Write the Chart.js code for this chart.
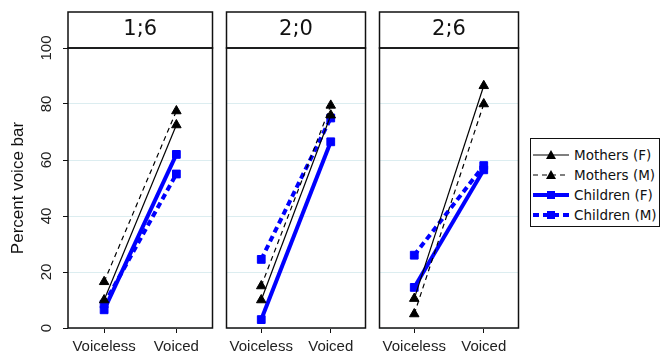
<!DOCTYPE html>
<html>
<head>
<meta charset="utf-8">
<script src="https://cdn.jsdelivr.net/npm/chart.js@4.4.1/dist/chart.umd.min.js"></script>
<style>
    body { margin: 0; background: #fff; width: 662px; height: 351px; overflow: hidden; position: relative;
           font-family: "Liberation Sans", Arial, sans-serif; }
    canvas { position: absolute; top: 11px; }
    #legend { position: absolute; left: 530px; top: 138px; width: 130px; height: 89px;
              border: 1.5px solid #111; box-sizing: border-box; padding-top: 6px; }
    .row { height: 20px; display: flex; align-items: center; color: #111;
           font: 13.5px "DejaVu Sans", Verdana, sans-serif; }
    .row svg { margin-left: 2px; margin-right: 5px; }
</style>
</head>
<body>
<canvas id="p0" width="219" height="340" style="left:0px"></canvas>
<canvas id="p1" width="152" height="340" style="left:220px"></canvas>
<canvas id="p2" width="152" height="340" style="left:373px"></canvas>
<div id="legend"></div>
<script>
(function () {
    "use strict";

    var categories = ["Voiceless", "Voiced"];
    var panelNames = ["1;6", "2;0", "2;6"];
    var yTicks = [0, 20, 40, 60, 80, 100];
    var yTitle = "Percent voice bar";

    // one pair per panel: [voiceless, voiced]
    var mothersF = [[10, 72.5], [10, 76], [10.5, 86.5]];
    var mothersM = [[16.5, 77.5], [15, 79.5], [5, 80]];
    var childrenF = [[6.5, 62], [3, 66.5], [14.5, 56.5]];
    var childrenM = [[8.5, 55], [24.5, 75], [26, 58]];

    var FONT = '"Liberation Sans", Arial, sans-serif';
    var HEAD_FONT = '"DejaVu Sans", Verdana, sans-serif';
    var BLUE = "#0000ff";
    var HEADER = 36;

    var series = [
        { label: "Mothers (F)", values: mothersF, color: "#000", width: 1.2, dash: [], style: "triangle", radius: 5.5 },
        { label: "Mothers (M)", values: mothersM, color: "#000", width: 1.2, dash: [5, 4], style: "triangle", radius: 5.5 },
        { label: "Children (F)", values: childrenF, color: BLUE, width: 4, dash: [], style: "rect", radius: 5.5 },
        { label: "Children (M)", values: childrenM, color: BLUE, width: 4, dash: [6, 4], style: "rect", radius: 5.5 }
    ];

    // frame round the plot, header strip, and rotated y tick labels
    var framePlugin = {
        id: "frame",
        afterDraw: function (chart) {
            var a = chart.chartArea, ctx = chart.ctx;
            ctx.save();
            ctx.strokeStyle = "#111";
            ctx.lineWidth = 1.5;
            ctx.strokeRect(a.left, a.top, a.right - a.left, a.bottom - a.top);
            ctx.strokeRect(a.left, a.top - HEADER, a.right - a.left, HEADER);
            if (chart.options.plugins.frame.yLabels) {
                var y = chart.scales.y;
                ctx.fillStyle = "#222";
                ctx.font = "15px " + FONT;
                ctx.textAlign = "center";
                ctx.textBaseline = "middle";
                yTicks.forEach(function (v) {
                    ctx.save();
                    ctx.translate(a.left - 21, y.getPixelForValue(v));
                    ctx.rotate(-Math.PI / 2);
                    ctx.fillText(String(v), 0, 0);
                    ctx.restore();
                });
            }
            ctx.restore();
        }
    };

    function makePanel(i) {
        var first = i === 0;
        var ctx = document.getElementById("p" + i).getContext("2d");
        return new Chart(ctx, {
            type: "line",
            data: {
                labels: categories,
                datasets: series.map(function (s) {
                    return {
                        label: s.label,
                        data: s.values[i],
                        borderColor: s.color,
                        backgroundColor: s.color,
                        borderWidth: s.width,
                        borderDash: s.dash,
                        pointStyle: s.style,
                        pointRadius: s.radius,
                        pointBorderWidth: 1,
                        pointBackgroundColor: s.color,
                        tension: 0
                    };
                })
            },
            options: {
                responsive: false,
                animation: false,
                layout: { padding: { top: 1, right: 2, bottom: 0, left: first ? 0 : 2 } },
                plugins: {
                    legend: { display: false },
                    tooltip: { enabled: false },
                    title: {
                        display: true, text: panelNames[i], fullSize: false, color: "#111",
                        font: { size: 21, family: HEAD_FONT, weight: "normal", lineHeight: 1.2 },
                        padding: { top: 5, bottom: 5.8 }
                    },
                    frame: { yLabels: first }
                },
                scales: {
                    x: {
                        type: "category", offset: true,
                        border: { display: false },
                        grid: { drawOnChartArea: false, tickLength: 5, tickColor: "#111", lineWidth: 1 },
                        ticks: { color: "#222", font: { size: 15, family: FONT }, padding: 5, maxRotation: 0 },
                        afterFit: function (sc) { sc.height = 23; }
                    },
                    y: {
                        min: 0, max: 100,
                        border: { display: false },
                        grid: { color: "#dcedf0", lineWidth: 1, drawTicks: first, tickLength: 5, tickColor: "#111" },
                        ticks: { stepSize: 20, display: false },
                        title: {
                            display: first, text: yTitle, color: "#111",
                            font: { size: 17, family: FONT }, padding: { top: 8, bottom: 0 }
                        },
                        afterFit: function (sc) { sc.width = first ? 68 : 0; }
                    }
                }
            },
            plugins: [framePlugin]
        });
    }

    if (typeof Chart !== "undefined") {
        for (var i = 0; i < panelNames.length; i++) {
            makePanel(i);
        }
    } else {
        console.error("Chart.js not loaded");
    }

    // legend
    var legend = document.getElementById("legend");
    series.forEach(function (s) {
        var marker = s.style === "triangle"
            ? '<polygon points="18,1 23,10 13,10" fill="' + s.color + '"/>'
            : '<rect x="14" y="2" width="8" height="8" fill="' + s.color + '"/>';
        var row = document.createElement("div");
        row.className = "row";
        row.innerHTML = '<svg width="36" height="12">' +
            '<line x1="0" y1="6" x2="36" y2="6" stroke="' + s.color + '" stroke-width="' + s.width + '"' +
            (s.dash.length ? ' stroke-dasharray="' + s.dash.join(",") + '"' : "") + '/>' +
            marker + '</svg><span>' + s.label + '</span>';
        legend.appendChild(row);
    });
})();
</script>
</body>
</html>
